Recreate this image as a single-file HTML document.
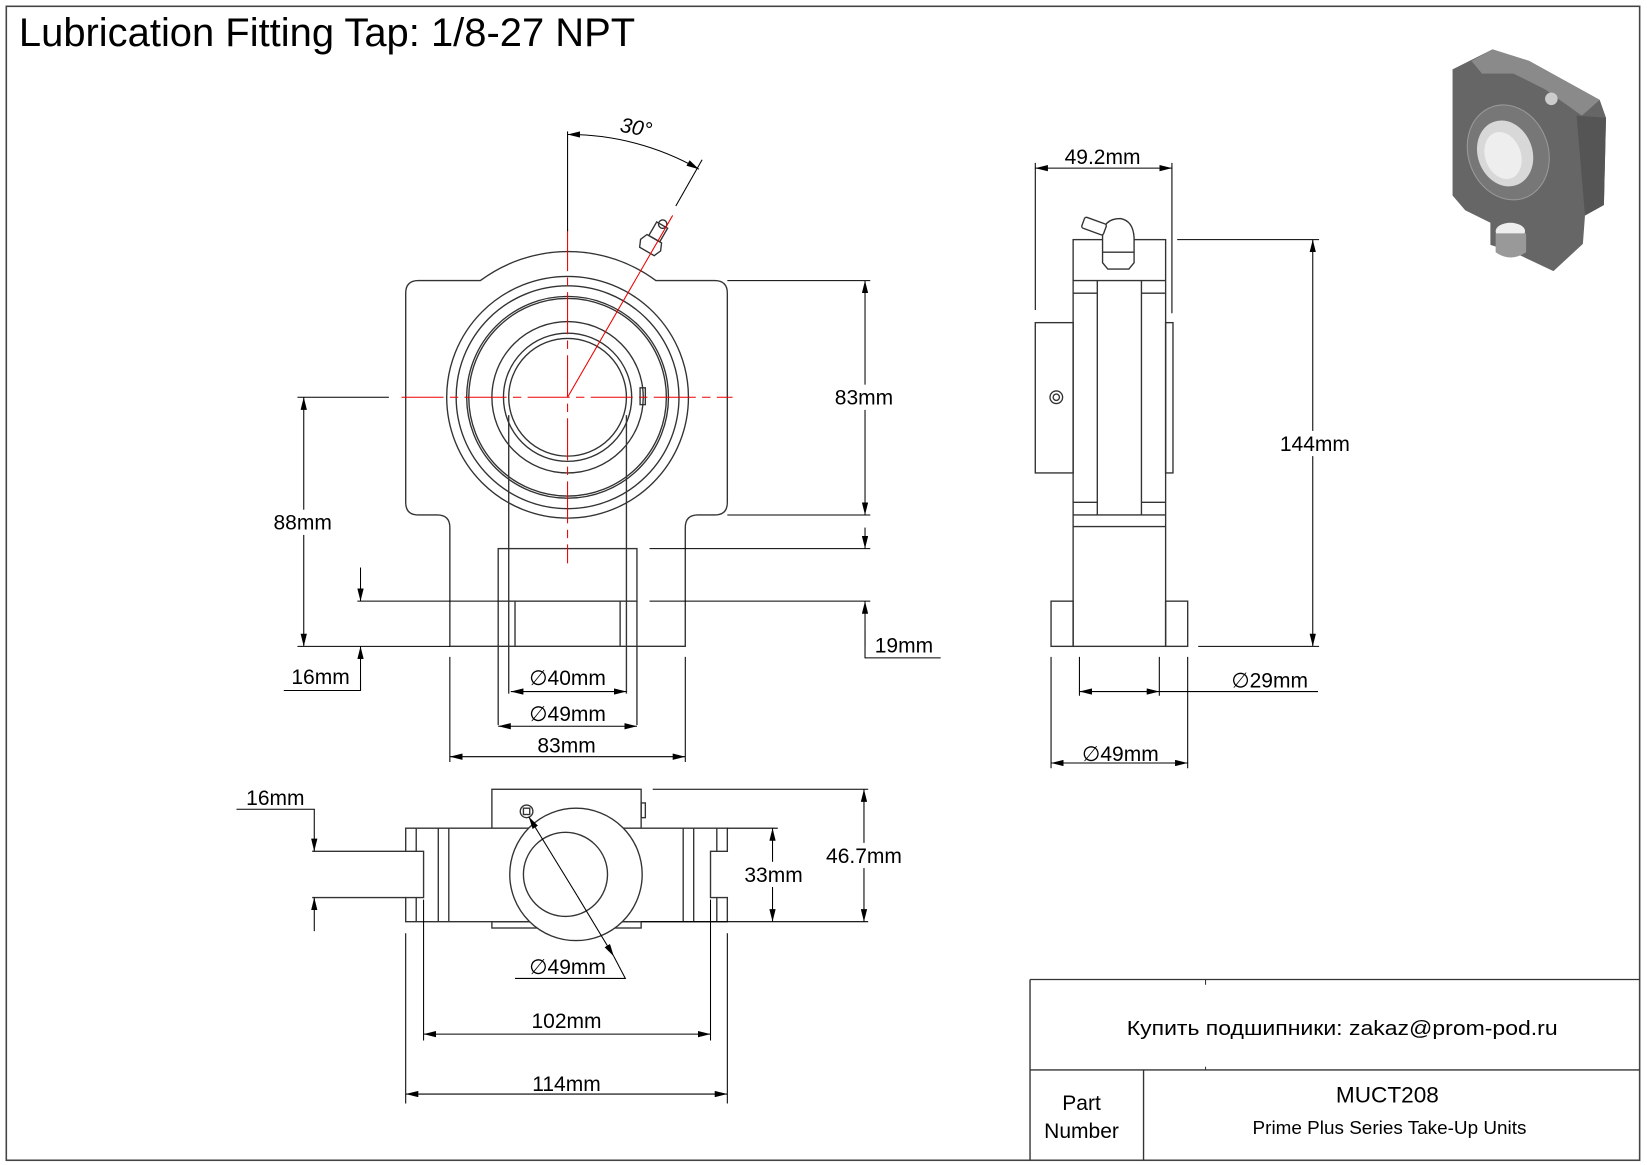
<!DOCTYPE html>
<html><head><meta charset="utf-8"><style>
html,body{margin:0;padding:0;background:#fff;}
svg{display:block;}
text{font-family:"Liberation Sans",Arial,sans-serif;fill:#000;}
</style></head><body>
<svg width="1647" height="1165" viewBox="0 0 1567 1108.5" preserveAspectRatio="none" xmlns="http://www.w3.org/2000/svg">
<defs>
<marker id="a" viewBox="0 0 12 6" refX="12" refY="3" markerWidth="12" markerHeight="6" orient="auto" markerUnits="userSpaceOnUse"><path d="M0,0 L12,3 L0,6 z" fill="#000"/></marker>
<marker id="b" viewBox="0 0 12 6" refX="0" refY="3" markerWidth="12" markerHeight="6" orient="auto" markerUnits="userSpaceOnUse"><path d="M12,0 L0,3 L12,6 z" fill="#000"/></marker>
</defs>
<rect x="6" y="6" width="1554" height="1098" fill="none" stroke="#444" stroke-width="1.5"/>
<text x="18" y="44" font-size="38">Lubrication Fitting Tap: 1/8-27 NPT</text>

<!-- FRONT VIEW -->
<g fill="none" stroke="#333" stroke-width="1.3">
<path d="M398,267 H457 A140,140 0 0 1 624,267 H680 Q692,267 692,279 V478 Q692,490 680,490 H664 Q652,490 652,502 V615 H428 V502 Q428,490 416,490 H398 Q386,490 386,478 V279 Q386,267 398,267 Z"/>
<circle cx="540" cy="378" r="115"/>
<circle cx="540" cy="378" r="106"/>
<circle cx="540" cy="378" r="96"/>
<circle cx="540" cy="378" r="94"/>
<circle cx="540" cy="378" r="72"/>
<circle cx="540" cy="378" r="61"/>
<circle cx="540" cy="378" r="56"/>
<rect x="609" y="369" width="5" height="16"/>
<path d="M484,395 V660 M596,395 V660"/>
<rect x="474" y="522" width="132" height="50"/>
<path d="M474,572 V690 M606,572 V690 M490,572 V615 M590,572 V615"/>
<g transform="rotate(30 622 228)"><path d="M611,234 L614,227 H630 L633,234 L630,241 H614 Z"/><rect x="616" y="212" width="12" height="15"/><circle cx="622" cy="211" r="4"/></g>
</g>
<g stroke="#e00" stroke-width="1" fill="none">
<path d="M382,378 H697" stroke-dasharray="40,6,8,6"/>
<path d="M540,218 V536" stroke-dasharray="40,6,8,6"/>
<path d="M540,378 L640,205"/>
</g>
<g stroke="#000" stroke-width="1" fill="none">
<path d="M540,125 V220"/>
<path d="M643,196 L668,152"/>
<path d="M540,128 A250,250 0 0 1 665,161" marker-start="url(#b)" marker-end="url(#a)"/>
<path d="M692,267 H828 M692,490 H828 M618,522 H828 M618,572 H828"/>
<path d="M823,378 V267" marker-end="url(#a)"/>
<path d="M823,378 V490" marker-end="url(#a)"/>
<path d="M823,502 V522" marker-end="url(#a)"/>
<path d="M823,615 V572" marker-end="url(#a)"/>
<path d="M823,600 V626 H895"/>
<path d="M283,378 H370 M283,615 H428 M340,572 H474"/>
<path d="M289,497 V378" marker-end="url(#a)"/>
<path d="M289,497 V615" marker-end="url(#a)"/>
<path d="M343,540 V572" marker-end="url(#a)"/>
<path d="M343,657 V615" marker-end="url(#a)"/>
<path d="M343,645 V657 H270"/>
<path d="M486,658 H596" marker-start="url(#b)" marker-end="url(#a)"/>
<path d="M474,691 H606" marker-start="url(#b)" marker-end="url(#a)"/>
<path d="M428,625 V725 M652,625 V725"/>
<path d="M428,720 H652" marker-start="url(#b)" marker-end="url(#a)"/>
</g>
<text x="590" y="128" font-size="20" font-style="italic" transform="rotate(10 605 122)">30°</text>
<rect x="790" y="366" width="66" height="24" fill="#fff"/>
<text x="822" y="385" font-size="20" text-anchor="middle">83mm</text>
<rect x="255" y="485" width="66" height="24" fill="#fff"/>
<text x="288" y="504" font-size="20" text-anchor="middle">88mm</text>
<text x="860" y="621" font-size="20" text-anchor="middle">19mm</text>
<text x="305" y="651" font-size="20" text-anchor="middle">16mm</text>
<text x="540" y="652" font-size="20" text-anchor="middle">∅40mm</text>
<text x="540" y="686" font-size="20" text-anchor="middle">∅49mm</text>
<text x="539" y="716" font-size="20" text-anchor="middle">83mm</text>

<!-- SIDE VIEW -->
<g fill="none" stroke="#333" stroke-width="1.3">
<rect x="1021" y="228" width="88" height="387"/>
<path d="M1021,267 H1109 M1021,279 H1044 M1086,279 H1109 M1021,478 H1044 M1086,478 H1109 M1021,490 H1109 M1021,501 H1109 M1044,267 V490 M1086,267 V490"/>
<rect x="985" y="307" width="36" height="143"/>
<rect x="1109" y="307" width="7" height="143"/>
<rect x="1000" y="572" width="21" height="43"/>
<rect x="1109" y="572" width="21" height="43"/>
<circle cx="1005" cy="378" r="6"/><circle cx="1005" cy="378" r="3"/>
<path d="M1049,225 Q1049,208 1066,208 Q1078,210 1079,226 V250 L1074,256 H1054 L1049,250 Z" fill="#fff"/>
<path d="M1049,240 H1079"/>
<g transform="rotate(20 1042 215)"><rect x="1030" y="210" width="22" height="11" rx="2" fill="#fff"/></g>
</g>
<g stroke="#000" stroke-width="1" fill="none">
<path d="M985,155 V295 M1115,155 V298"/>
<path d="M1049,160 H985" marker-end="url(#a)"/>
<path d="M1049,160 H1115" marker-end="url(#a)"/>
<path d="M1120,228 H1255 M1140,615 H1255"/>
<path d="M1249,422 V228" marker-end="url(#a)"/>
<path d="M1249,422 V615" marker-end="url(#a)"/>
<path d="M1027,625 V662 M1103,625 V662 M1000,625 V731 M1130,625 V731"/>
<path d="M1027,658 H1103" marker-start="url(#b)" marker-end="url(#a)"/>
<path d="M1103,658 H1254"/>
<path d="M1000,726 H1130" marker-start="url(#b)" marker-end="url(#a)"/>
</g>
<text x="1049" y="156" font-size="20" text-anchor="middle">49.2mm</text>
<rect x="1214" y="410" width="74" height="24" fill="#fff"/>
<text x="1251" y="429" font-size="20" text-anchor="middle">144mm</text>
<text x="1208" y="654" font-size="20" text-anchor="middle">∅29mm</text>
<text x="1066" y="724" font-size="20" text-anchor="middle">∅49mm</text>

<!-- BOTTOM VIEW -->
<g fill="none" stroke="#333" stroke-width="1.3">
<rect x="468" y="751" width="142" height="37"/>
<rect x="468" y="877" width="142" height="6"/>
<path d="M386,788 H692 V810 H676 V854 H692 V877 H386 V854 H403 V810 H386 Z" fill="#fff"/>
<path d="M396,788 V810 M396,854 V877 M417,788 V877 M427,788 V877 M650,788 V877 M660,788 V877 M682,788 V810 M682,854 V877"/>
<path d="M297,810 H386 M297,854 H386"/>
<circle cx="548" cy="832" r="63" fill="#fff"/>
<circle cx="538" cy="832" r="40"/>
<circle cx="501" cy="772" r="6"/><rect x="498" y="769" width="6" height="6"/>
<rect x="610" y="764" width="4" height="14"/>
</g>
<g stroke="#000" stroke-width="1" fill="none">
<path d="M549,852 L503,777" marker-end="url(#a)"/>
<path d="M549,852 L584,910" marker-end="url(#a)"/>
<path d="M584,910 L595,931 H490"/>
<path d="M225,770 H299 V810" marker-end="url(#a)"/>
<path d="M299,886 V854" marker-end="url(#a)"/>
<path d="M692,788 H740 M610,877 H826 M621,751 H826"/>
<path d="M735,832 V788" marker-end="url(#a)"/>
<path d="M735,832 V877" marker-end="url(#a)"/>
<path d="M822,814 V751" marker-end="url(#a)"/>
<path d="M822,814 V877" marker-end="url(#a)"/>
<path d="M403,856 V990 M676,856 V990 M386,888 V1050 M692,888 V1050"/>
<path d="M403,984 H676" marker-start="url(#b)" marker-end="url(#a)"/>
<path d="M386,1041 H692" marker-start="url(#b)" marker-end="url(#a)"/>
</g>
<text x="262" y="766" font-size="20" text-anchor="middle">16mm</text>
<rect x="705" y="820" width="62" height="24" fill="#fff"/>
<text x="736" y="839" font-size="20" text-anchor="middle">33mm</text>
<rect x="782" y="802" width="80" height="24" fill="#fff"/>
<text x="822" y="821" font-size="20" text-anchor="middle">46.7mm</text>
<text x="540" y="927" font-size="20" text-anchor="middle">∅49mm</text>
<text x="539" y="978" font-size="20" text-anchor="middle">102mm</text>
<text x="539" y="1038" font-size="20" text-anchor="middle">114mm</text>

<!-- 3D ICON -->
<g>
<path d="M1382,66 L1420,47 L1455,58 L1522,95 L1528,112 L1526,195 L1508,205 L1506,232 L1478,258 L1440,240 L1418,233 L1418,212 L1394,200 L1382,186 Z" fill="#666"/>
<path d="M1400,58 L1420,47 L1455,58 L1522,95 L1505,110 L1470,85 L1440,70 L1410,70 Z" fill="#8a8a8a"/>
<path d="M1500,110 L1528,112 L1526,195 L1508,205 Z" fill="#555"/>
<ellipse cx="1435" cy="145" rx="38" ry="46" transform="rotate(-20 1435 145)" fill="#777" stroke="#999"/>
<ellipse cx="1432" cy="146" rx="26" ry="32" transform="rotate(-20 1432 146)" fill="#d8d8d8"/>
<ellipse cx="1430" cy="148" rx="17" ry="23" transform="rotate(-20 1430 148)" fill="#eee"/>
<ellipse cx="1437" cy="220" rx="14" ry="8" fill="#eee"/>
<path d="M1423,222 L1423,240 Q1437,250 1452,240 L1452,222" fill="#999"/>
<circle cx="1476" cy="94" r="6" fill="#ccc"/>
</g>

<!-- TITLE BLOCK -->
<g fill="none" stroke="#333" stroke-width="1.3">
<path d="M980,932 H1560 M980,932 V1104 M980,1018 H1560 M1088,1018 V1104"/>
<path d="M1147,932 V937 M1147,1015 V1018" stroke-width="1"/>
</g>
<text x="1072" y="985" font-size="19" textLength="410" lengthAdjust="spacingAndGlyphs" font-family="'DejaVu Sans',sans-serif">Купить подшипники: zakaz@prom-pod.ru</text>
<text x="1029" y="1056" font-size="20" text-anchor="middle">Part</text>
<text x="1029" y="1083" font-size="20" text-anchor="middle">Number</text>
<text x="1320" y="1049" font-size="21.5" text-anchor="middle">MUCT208</text>
<text x="1322" y="1079" font-size="18" text-anchor="middle">Prime Plus Series Take-Up Units</text>
</svg>
</body></html>
